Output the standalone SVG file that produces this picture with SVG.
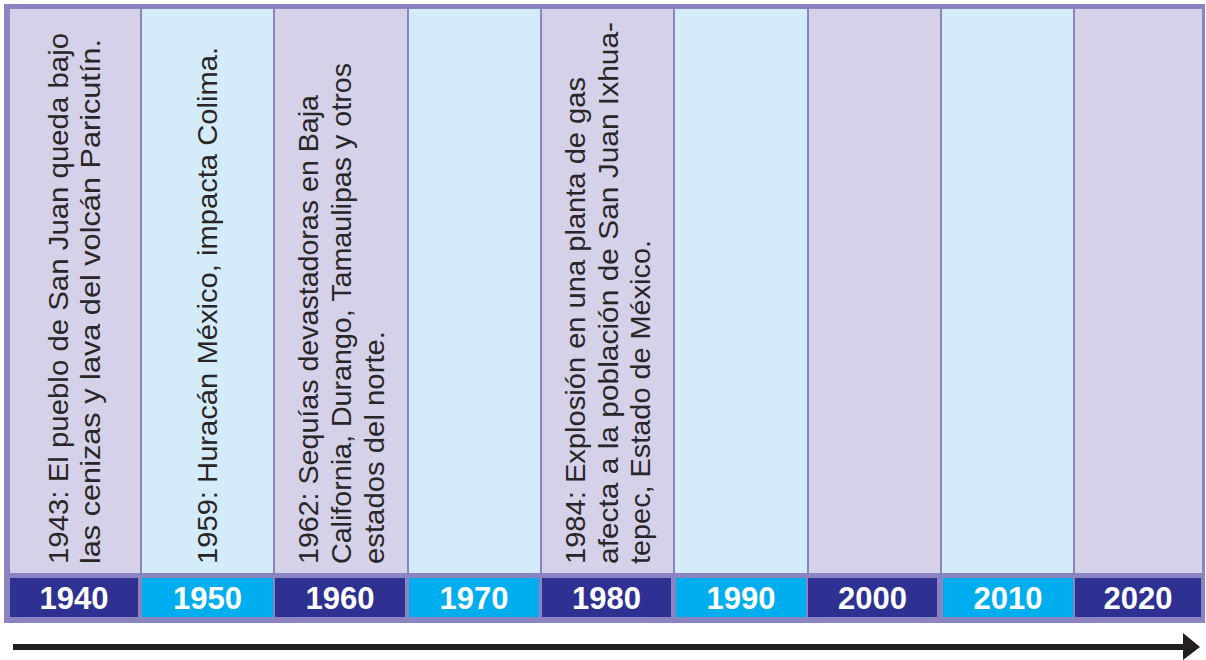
<svg xmlns="http://www.w3.org/2000/svg" width="1206" height="660" viewBox="0 0 1206 660">
<defs>
<style>
.frame{fill:#8a84c1}
.lav{fill:#d4d1e8}
.sky{fill:#d4ebf9}
.navy{fill:#2e3192}
.cyan{fill:#00aeef}
.ev{font-family:"Liberation Sans",Arial,sans-serif;font-size:28px;fill:#2a2627}
.yr{font-family:"Liberation Sans",Arial,sans-serif;font-size:31px;font-weight:bold;fill:#ffffff;text-anchor:middle}
</style>
</defs>
<rect width="1206" height="660" fill="#ffffff"/>
<rect class="frame" x="4" y="4" width="1201" height="619"/>

<g id="col-1940">
<rect class="lav" x="10" y="9" width="130" height="564"/>
<rect class="navy" x="10" y="578" width="128" height="39"/>
<text class="yr" x="74" y="609">1940</text>
<text class="ev" transform="translate(68,564) rotate(-90)" textLength="531" lengthAdjust="spacingAndGlyphs">1943: El pueblo de San Juan queda bajo</text>
<text class="ev" transform="translate(100,564) rotate(-90)" textLength="525" lengthAdjust="spacingAndGlyphs">las cenizas y lava del volcán Paricutín.</text>
</g>

<g id="col-1950">
<rect class="sky" x="142" y="9" width="131" height="564"/>
<rect class="cyan" x="142" y="578" width="131" height="39"/>
<text class="yr" x="207.5" y="609">1950</text>
<text class="ev" transform="translate(217,564) rotate(-90)" textLength="517" lengthAdjust="spacingAndGlyphs">1959: Huracán México, impacta Colima.</text>
</g>

<g id="col-1960">
<rect class="lav" x="275" y="9" width="132" height="564"/>
<rect class="navy" x="275" y="578" width="130" height="39"/>
<text class="yr" x="340" y="609">1960</text>
<text class="ev" transform="translate(318,564) rotate(-90)" textLength="469" lengthAdjust="spacingAndGlyphs">1962: Sequías devastadoras en Baja</text>
<text class="ev" transform="translate(351,564) rotate(-90)" textLength="501" lengthAdjust="spacingAndGlyphs">California, Durango, Tamaulipas y otros</text>
<text class="ev" transform="translate(384,564) rotate(-90)" textLength="233" lengthAdjust="spacingAndGlyphs">estados del norte.</text>
</g>

<g id="col-1970">
<rect class="sky" x="409" y="9" width="131" height="564"/>
<rect class="cyan" x="409" y="578" width="130" height="39"/>
<text class="yr" x="474" y="609">1970</text>
</g>

<g id="col-1980">
<rect class="lav" x="542" y="9" width="131" height="564"/>
<rect class="navy" x="542" y="578" width="129" height="39"/>
<text class="yr" x="606.5" y="609">1980</text>
<text class="ev" transform="translate(585,564) rotate(-90)" textLength="487" lengthAdjust="spacingAndGlyphs">1984: Explosión en una planta de gas</text>
<text class="ev" transform="translate(618,564) rotate(-90)" textLength="542" lengthAdjust="spacingAndGlyphs">afecta a la población de San Juan Ixhua-</text>
<text class="ev" transform="translate(650,564) rotate(-90)" textLength="324" lengthAdjust="spacingAndGlyphs">tepec, Estado de México.</text>
</g>

<g id="col-1990">
<rect class="sky" x="675" y="9" width="132" height="564"/>
<rect class="cyan" x="676" y="578" width="130" height="39"/>
<text class="yr" x="741" y="609">1990</text>
</g>

<g id="col-2000">
<rect class="lav" x="809" y="9" width="131" height="564"/>
<rect class="navy" x="808" y="578" width="129" height="39"/>
<text class="yr" x="872.5" y="609">2000</text>
</g>

<g id="col-2010">
<rect class="sky" x="942" y="9" width="131" height="564"/>
<rect class="cyan" x="943" y="578" width="130" height="39"/>
<text class="yr" x="1008" y="609">2010</text>
</g>

<g id="col-2020">
<rect class="lav" x="1075" y="9" width="127" height="564"/>
<rect class="navy" x="1075" y="578" width="126" height="39"/>
<text class="yr" x="1138" y="609">2020</text>
</g>

<g id="connectors">
<rect x="13" y="644" width="1172" height="6" fill="#231f20"/>
<polygon points="1183,633 1200,647 1183,660" fill="#231f20"/>
</g>
</svg>
